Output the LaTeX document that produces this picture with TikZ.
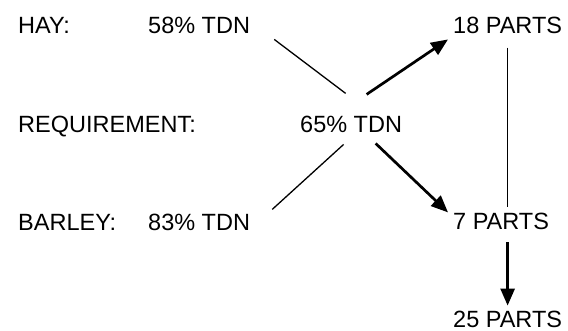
\documentclass[tikz,border=0pt]{standalone}
\usepackage{fontspec}
\setmainfont{Liberation Sans}
\usetikzlibrary{arrows.meta}
\begin{document}
\begin{tikzpicture}[x=1pt,y=1pt,
  lbl/.style={anchor=base west,inner sep=0pt,font=\fontsize{23.5}{28}\selectfont},
  thinline/.style={line width=1.3pt},
  thickarrow/.style={line width=2.7pt,-{Triangle[length=17pt,width=14pt]}}]
\useasboundingbox (0,0) rectangle (568,331);
% rows (y from top converted: y = 331 - yimg)
\node[lbl] (hay) at (18,{331-33.3}) {HAY:};
\node[lbl] (p58) at (148,{331-33.3}) {58\% TDN};
\node[lbl] (p18) at (453,{331-33.3}) {18 PARTS};
\node[lbl] (req) at (18,{331-133}) {REQUIREMENT:};
\node[lbl] (r65) at (300,{331-133}) {65\% TDN};
\node[lbl] (bar) at (18,{331-231}) {BARLEY:};
\node[lbl] (p83) at (148,{331-231}) {83\% TDN};
\node[lbl] (p7) at (453,{331-230}) {7 PARTS};
\node[lbl] (p25) at (453,{331-327.2}) {25 PARTS};
% connectors
\draw[thinline] ([shift={(24,-5.7)}]p58.south east) -- ([shift={(-5.5,23)}]r65.north);
\draw[thinline] ([shift={(-7.5,-11)}]r65.south) -- ([shift={(22,5)}]p83.north east);
\draw[thickarrow] ([shift={(15.5,22)}]r65.north) -- ([shift={(-5,-5.7)}]p18.south west);
\draw[thickarrow] ([shift={(24.5,-10)}]r65.south) -- ([shift={(-5,1)}]p7.north west);
\draw[thinline] ([shift={(0,-14)}]p18.south) -- ([shift={(0,6)}]p7.north -| p18.south);
\draw[thickarrow] ([shift={(0,-12)}]p7.south -| p25.north) -- ([shift={(0,5)}]p25.north);
\end{tikzpicture}
\end{document}
